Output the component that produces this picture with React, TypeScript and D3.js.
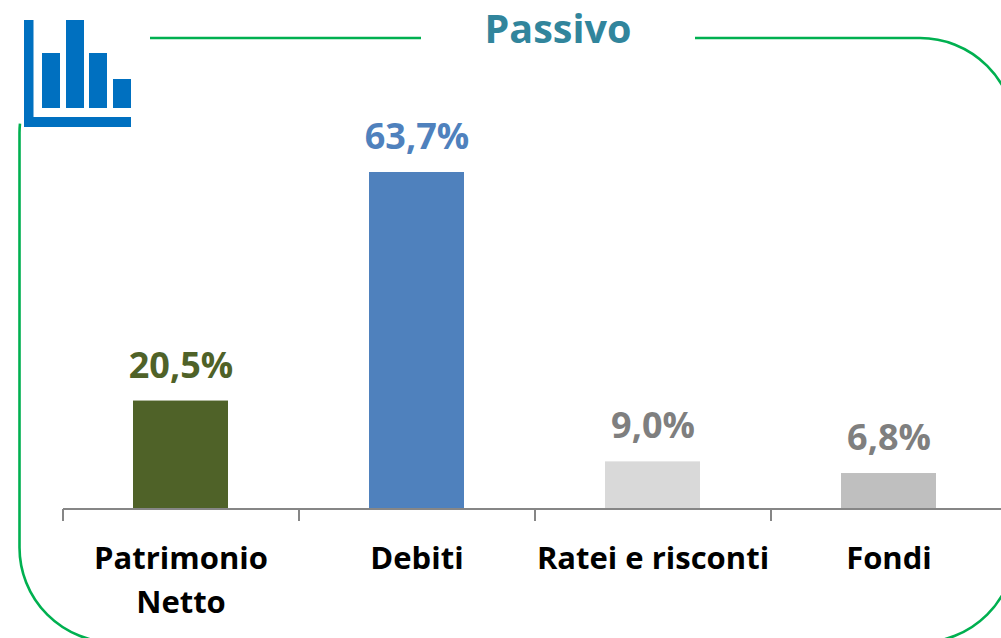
import React from "react";
import * as d3 from "d3";

const categories = ["Patrimonio Netto", "Debiti", "Ratei e risconti", "Fondi"];
const categoryLines = [["Patrimonio", "Netto"], ["Debiti"], ["Ratei e risconti"], ["Fondi"]];
const values = [20.5, 63.7, 9.0, 6.8];
const valueLabels = ["20,5%", "63,7%", "9,0%", "6,8%"];
const barColors = ["#4F6228", "#4F81BD", "#D9D9D9", "#BFBFBF"];
const labelColors = ["#4F6228", "#4F81BD", "#7F7F7F", "#7F7F7F"];
const iconBars = [55, 88, 55, 29];

const W = 1001, H = 638;
const FONT = "'Open Sans', sans-serif";
const GREEN = "#00B050";
const ICON = "#0070C0";

export default function App() {
  const x = d3.scaleBand<string>().domain(categories).range([63, 1007]).paddingInner(0).paddingOuter(0);
  const y = d3.scaleLinear().domain([0, 63.7]).range([509, 172]);
  const barW = 95;

  const R = 95, L = 19.5, T = 38, Rt = 1015, B = 642.5;
  const frame = d3.path();
  frame.moveTo(695, T);
  frame.lineTo(Rt - R, T);
  frame.arc(Rt - R, T + R, R, -Math.PI / 2, 0);
  frame.lineTo(Rt, B - R);
  frame.arc(Rt - R, B - R, R, 0, Math.PI / 2);
  frame.lineTo(L + R, B);
  frame.arc(L + R, B - R, R, Math.PI / 2, Math.PI);
  frame.lineTo(L, T + R);
  frame.arc(L + R, T + R, R, Math.PI, Math.PI + 0.1);

  const ticks = [...categories.map((c) => x(c)!), 1007];

  return (
    <svg width={W} height={H} viewBox={`0 0 ${W} ${H}`} style={{ position: "absolute", left: 0, top: 0, background: "#fff" }} fontFamily={FONT}>
      <path d={frame.toString()} fill="none" stroke={GREEN} strokeWidth={2.6} />
      <line x1={150} x2={421} y1={T} y2={T} stroke={GREEN} strokeWidth={2.6} />

      <g fill={ICON}>
        <rect x={24} y={20} width={9.5} height={107} />
        <rect x={24} y={117} width={107} height={10} />
        {iconBars.map((h, i) => (
          <rect key={i} x={[42, 66, 89, 113][i]} y={108 - h} width={18} height={h} />
        ))}
      </g>

      <text x={558} y={43} textAnchor="middle" fontSize={39.5} fontWeight={700} fill="#31859C">Passivo</text>

      {categories.map((c, i) => {
        const cx = x(c)! + x.bandwidth() / 2;
        return (
          <g key={c}>
            <rect x={Math.floor(cx - barW / 2)} y={y(values[i])} width={barW} height={y(0) - y(values[i])} fill={barColors[i]} />
            <text x={cx} y={y(values[i]) - 23} textAnchor="middle" fontSize={36} fontWeight={700} fill={labelColors[i]}>{valueLabels[i]}</text>
            <text textAnchor="middle" fontSize={31} fontWeight={700} fill="#000">
              {categoryLines[i].map((t, j) => (
                <tspan key={j} x={cx} y={569 + j * 44}>{t}</tspan>
              ))}
            </text>
          </g>
        );
      })}

      <line x1={63} x2={W} y1={509} y2={509} stroke="#868686" strokeWidth={2} />
      {ticks.map((t, i) => (
        <line key={i} x1={t} x2={t} y1={509} y2={521} stroke="#868686" strokeWidth={2} />
      ))}
    </svg>
  );
}
